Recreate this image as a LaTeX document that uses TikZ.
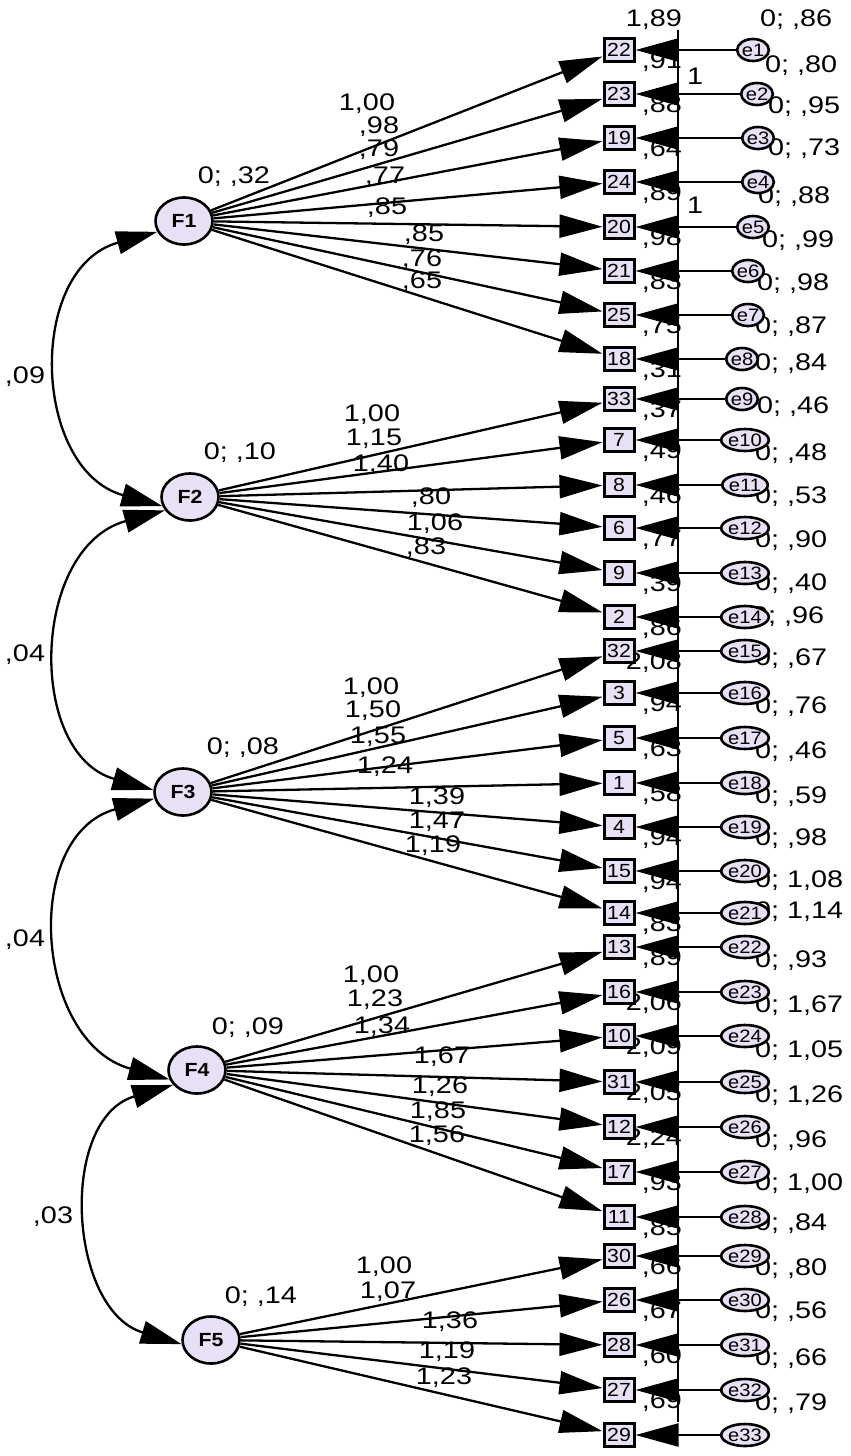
\documentclass[tikz,border=0pt]{standalone}
\usepackage{fontspec}
\setmainfont{Liberation Sans}
\newfontfamily\labfont[FakeStretch=1.2]{Liberation Sans}
\newfontfamily\boxfont[FakeStretch=1.12]{Liberation Sans}
\usetikzlibrary{arrows.meta,shapes.geometric}
\definecolor{lav}{RGB}{232,224,244}
\begin{document}
\begin{tikzpicture}[x=1pt,y=-1pt,
  lab/.style={font=\labfont\fontsize{24}{24}\selectfont, inner sep=0pt},
  ilab/.style={lab, anchor=base east},
  elab/.style={lab, anchor=base west},
  item/.style={draw, line width=3pt, fill=lav, minimum width=30pt, minimum height=23pt, inner sep=0pt, font=\boxfont\fontsize{19}{19}\selectfont},
  fac/.style={draw, ellipse, line width=2.6pt, fill=lav, minimum width=57pt, minimum height=47pt, inner sep=0pt, font=\boxfont\bfseries\fontsize{19}{19}\selectfont},
  err/.style={draw, ellipse, line width=2.6pt, fill=lav, minimum width=30pt, minimum height=22pt, inner sep=0pt, font=\boxfont\fontsize{18}{18}\selectfont},
  conn/.style={line width=2.3pt, -{Triangle[length=43pt,width=23pt]}},
  cov/.style={line width=2.3pt, {Triangle[length=41pt,width=23pt]}-{Triangle[length=41pt,width=23pt]}},
  vline/.style={line width=2.8pt}
]
\fill[white] (0,0) rectangle (851,1456);
\useasboundingbox (0,0) rectangle (851,1456);

% ---------- covariance labels ----------
\node[lab] (c12) at (25,377) {,09};
\node[lab] (c23) at (25,655) {,04};
\node[lab] (c34) at (25,940) {,04};
\node[lab] (c45) at (53,1217) {,03};

% ---------- factor variances ----------
\node[lab] (v1) at (234,177) {0; ,32};
\node[lab] (v2) at (240,453) {0; ,10};
\node[lab] (v3) at (243,748) {0; ,08};
\node[lab] (v4) at (248,1028) {0; ,09};
\node[lab] (v5) at (261,1297) {0; ,14};

% ---------- loading labels ----------
\node[lab] (l1a) at (367,104) {1,00};
\node[lab] (l1b) at (379,127) {,98};
\node[lab] (l1c) at (379,150) {,79};
\node[lab] (l1d) at (385,177) {,77};
\node[lab] (l1e) at (387,208) {,85};
\node[lab] (l1f) at (424,235) {,85};
\node[lab] (l1g) at (422,260) {,76};
\node[lab] (l1h) at (422,282) {,65};
\node[lab] (l2a) at (372,415) {1,00};
\node[lab] (l2b) at (374,439) {1,15};
\node[lab] (l2c) at (381,465) {1,40};
\node[lab] (l2d) at (431,498) {,80};
\node[lab] (l2e) at (435,524) {1,06};
\node[lab] (l2f) at (426,548) {,83};
\node[lab] (l3a) at (371,688) {1,00};
\node[lab] (l3b) at (373,711) {1,50};
\node[lab] (l3c) at (378,737) {1,55};
\node[lab] (l3d) at (385,767) {1,24};
\node[lab] (l3e) at (437,798) {1,39};
\node[lab] (l3f) at (437,822) {1,47};
\node[lab] (l3g) at (433,846) {1,19};
\node[lab] (l4a) at (371,976) {1,00};
\node[lab] (l4b) at (375,1000) {1,23};
\node[lab] (l4c) at (382,1027) {1,34};
\node[lab] (l4d) at (442,1057) {1,67};
\node[lab] (l4e) at (440,1087) {1,26};
\node[lab] (l4f) at (438,1112) {1,85};
\node[lab] (l4g) at (437,1136) {1,56};
\node[lab] (l5a) at (384,1267) {1,00};
\node[lab] (l5b) at (388,1292) {1,07};
\node[lab] (l5c) at (450,1322) {1,36};
\node[lab] (l5d) at (447,1352) {1,19};
\node[lab] (l5e) at (444,1378) {1,23};

% ---------- intercept labels ----------
\node[ilab] (i0) at (682,27) {1,89};
\node[ilab] (i1) at (682,68) {,91};
\node[ilab] (i2) at (682,112) {,88};
\node[ilab] (i3) at (682,156) {,64};
\node[ilab] (i4) at (682,200) {,89};
\node[ilab] (i5) at (682,245) {,98};
\node[ilab] (i6) at (682,289) {,83};
\node[ilab] (i7) at (682,333) {,75};
\node[ilab] (i8) at (682,377) {,31};
\node[ilab] (i9) at (682,417) {,37};
\node[ilab] (i10) at (682,458) {,49};
\node[ilab] (i11) at (682,503) {,46};
\node[ilab] (i12) at (682,546) {,77};
\node[ilab] (i13) at (682,591) {,39};
\node[ilab] (i14) at (682,635) {,86};
\node[ilab] (i15) at (682,669) {2,08};
\node[ilab] (i16) at (682,711) {,94};
\node[ilab] (i17) at (682,756) {,63};
\node[ilab] (i18) at (682,801) {,58};
\node[ilab] (i19) at (682,845) {,94};
\node[ilab] (i20) at (682,889) {,94};
\node[ilab] (i21) at (682,931) {,83};
\node[ilab] (i22) at (682,965) {,89};
\node[ilab] (i23) at (682,1010) {2,06};
\node[ilab] (i24) at (682,1054) {2,09};
\node[ilab] (i25) at (682,1100) {2,05};
\node[ilab] (i26) at (682,1145) {2,24};
\node[ilab] (i27) at (682,1190) {,93};
\node[ilab] (i28) at (682,1235) {,85};
\node[ilab] (i29) at (682,1274) {,66};
\node[ilab] (i30) at (682,1318) {,67};
\node[ilab] (i31) at (682,1363) {,60};
\node[ilab] (i32) at (682,1408) {,69};

% ---------- error variance labels ----------
\node[elab] (ev1) at (760,27) {0; ,86};
\node[elab] (ev2) at (765,72) {0; ,80};
\node[elab] (ev3) at (768,113) {0; ,95};
\node[elab] (ev4) at (768,155) {0; ,73};
\node[elab] (ev5) at (758,203) {0; ,88};
\node[elab] (ev6) at (762,247) {0; ,99};
\node[elab] (ev7) at (757,290) {0; ,98};
\node[elab] (ev8) at (755,333) {0; ,87};
\node[elab] (ev9) at (755,370) {0; ,84};
\node[elab] (ev10) at (757,413) {0; ,46};
\node[elab] (ev11) at (755,460) {0; ,48};
\node[elab] (ev12) at (755,503) {0; ,53};
\node[elab] (ev13) at (755,547) {0; ,90};
\node[elab] (ev14) at (755,590) {0; ,40};
\node[elab] (ev15) at (752,623) {0; ,96};
\node[elab] (ev16) at (755,665) {0; ,67};
\node[elab] (ev17) at (755,713) {0; ,76};
\node[elab] (ev18) at (755,758) {0; ,46};
\node[elab] (ev19) at (755,803) {0; ,59};
\node[elab] (ev20) at (755,845) {0; ,98};
\node[elab] (ev21) at (755,887) {0; 1,08};
\node[elab] (ev22) at (755,918) {0; 1,14};
\node[elab] (ev23) at (755,967) {0; ,93};
\node[elab] (ev24) at (755,1012) {0; 1,67};
\node[elab] (ev25) at (755,1057) {0; 1,05};
\node[elab] (ev26) at (755,1102) {0; 1,26};
\node[elab] (ev27) at (755,1147) {0; ,96};
\node[elab] (ev28) at (755,1190) {0; 1,00};
\node[elab] (ev29) at (755,1230) {0; ,84};
\node[elab] (ev30) at (755,1275) {0; ,80};
\node[elab] (ev31) at (755,1318) {0; ,56};
\node[elab] (ev32) at (755,1365) {0; ,66};
\node[elab] (ev33) at (755,1410) {0; ,79};

% ---------- fixed "1" labels ----------
\node[lab] (one1) at (695,76) {1};
\node[lab] (one2) at (695,205) {1};

% ---------- vertical line ----------
\coordinate (vt) at (678,30);
\coordinate (vb) at (678,1422);
\draw[vline] (vt) -- (vb);

% ---------- factors ----------
\node[fac] (F1) at (184,221) {F1};
\node[fac] (F2) at (190,497) {F2};
\node[fac] (F3) at (183,792) {F3};
\node[fac] (F4) at (197,1070) {F4};
\node[fac] (F5) at (211,1340) {F5};

% ---------- items and errors ----------
\foreach \n/\y/\ex [count=\i] in {22/50/753, 23/94/757, 19/138/758, 24/182/758, 20/227/753, 21/271/748, 25/315/748, 18/359/742,
  33/399/742, 7/440/745, 8/485/745, 6/528/745, 9/573/745, 2/617/745, 32/651/745, 3/693/745, 5/738/745, 1/783/745,
  4/827/745, 15/871/745, 14/913/745, 13/947/745, 16/992/745, 10/1036/745, 31/1082/745, 12/1127/745, 17/1172/745,
  11/1217/745, 30/1256/745, 26/1300/745, 28/1345/745, 27/1390/745, 29/1435/745}
{
  \node[item] (b\n) at (619,\y) {\n};
  \node[err] (e\i) at (\ex,\y) {e\i};
  \draw[conn] (e\i) -- (b\n);
}

% ---------- loadings ----------
\foreach \f/\lst in {F1/{22,23,19,24,20,21,25,18}, F2/{33,7,8,6,9,2}, F3/{32,3,5,1,4,15,14},
  F4/{13,16,10,31,12,17,11}, F5/{30,26,28,27,29}}
{
  \foreach \n in \lst {\draw[conn] (\f) -- (b\n);}
}

% ---------- covariances ----------
\draw[cov] (F1.202) .. controls (26,268) and (32,470) .. (F2.198);
\draw[cov] (F2.208) .. controls (31,547) and (26,754) .. (F3.176);
\draw[cov] (F3.193) .. controls (21,835) and (34,1042) .. (F4.199);
\draw[cov] (F4.212) .. controls (58,1119) and (68,1310) .. (F5.188);
\end{tikzpicture}
\end{document}
